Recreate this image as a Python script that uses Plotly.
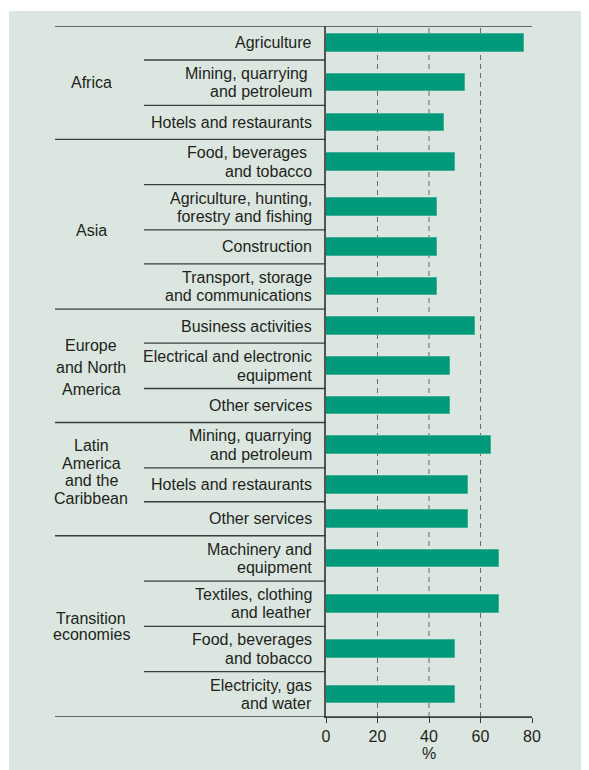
import plotly.graph_objects as go

# Regions, their industries and the share (%)
regions = [
    "Africa",
    "Asia",
    "Europe<br>and North<br>America",
    "Latin<br>America<br>and the<br>Caribbean",
    "Transition<br>economies",
]
industries = [
    ["Agriculture", "Mining, quarrying <br>and petroleum", "Hotels and restaurants"],
    ["Food, beverages <br>and tobacco", "Agriculture, hunting,<br>forestry and fishing",
     "Construction", "Transport, storage<br>and communications"],
    ["Business activities", "Electrical and electronic<br>equipment", "Other services"],
    ["Mining, quarrying<br>and petroleum", "Hotels and restaurants", "Other services"],
    ["Machinery and<br>equipment", "Textiles, clothing<br>and leather",
     "Food, beverages<br>and tobacco", "Electricity, gas<br>and water"],
]
shares = [
    [77, 54, 46],
    [50, 43, 43, 43],
    [58, 48, 48],
    [64, 55, 55],
    [67, 67, 50, 50],
]
x_ticks = [0, 20, 40, 60, 80]
grid_ticks = [20, 40, 60]

FONT = "Liberation Sans, Arial, Helvetica, sans-serif"
FS = 16
TEXT = "#231f20"
LINE = "#3c3c3c"
BAR = "#00997a"
PANEL = "#dae6df"

# region label leading and vertical nudge (px), as set in the original
region_leading = [19, 19, 22, 17.5, 16]
region_nudge = [0, -6, -1.5, 7, 0]

# the page body adds an 8px margin, so the figure is drawn 8px smaller
OFF = 8
W, H = 589 - OFF, 770 - OFF
L = 326 - OFF
T = 26 - OFF
R = W - (532 - OFF)
B = H - (717 - OFF)
plot_w = W - L - R
plot_h = H - T - B


def paper_x(px):
    # px measured on the final page
    return (px - OFF - L) / plot_w


def paper_y(py):
    return 1 - (py - OFF - T) / plot_h


# row height: 3 units for a one-line label, 4 for two lines
ys, widths_x, labels = [], [], []
row_edges = []          # separators inside a region
region_edges = [0.0]    # separators between regions
region_centers = []
pos = 0.0
for reg, inds, vals in zip(regions, industries, shares):
    start = pos
    for k, (ind, v) in enumerate(zip(inds, vals)):
        h = 3 + ind.count("<br>")
        if k > 0:
            row_edges.append(pos)
        ys.append(pos + h / 2)
        widths_x.append(v)
        labels.append(ind)
        pos += h
    region_edges.append(pos)
    region_centers.append((start + pos) / 2)
total = pos

fig = go.Figure()
fig.add_trace(go.Bar(
    x=widths_x, y=ys,
    orientation="h",
    width=1.55,
    marker=dict(color=BAR, line=dict(color="#40b096", width=1)),
    hoverinfo="x",
    showlegend=False,
))

shapes = [
    dict(type="rect", xref="paper", yref="paper", layer="below",
         x0=paper_x(9), x1=paper_x(600), y0=paper_y(11), y1=paper_y(780),
         fillcolor=PANEL, line=dict(width=0)),
]
for g in grid_ticks:
    shapes.append(dict(type="line", xref="x", yref="paper", layer="below",
                       x0=g, x1=g, y0=0, y1=1,
                       line=dict(color="#6b6b6b", width=1, dash="5px,4px")))
for e in row_edges:
    shapes.append(dict(type="line", xref="paper", yref="y",
                       x0=paper_x(144), x1=0, y0=e, y1=e,
                       line=dict(color=LINE, width=1.3)))
for i, e in enumerate(region_edges):
    x1 = 1 if i in (0, len(region_edges) - 1) else 0
    shapes.append(dict(type="line", xref="paper", yref="y",
                       x0=paper_x(55), x1=x1, y0=e, y1=e,
                       line=dict(color=LINE, width=1.3)))

annotations = []
LS = 18.5
for y, lab in zip(ys, labels):
    parts = lab.split("<br>")
    n = len(parts)
    for i, p in enumerate(parts):
        annotations.append(dict(
            x=paper_x(314), y=y, xref="paper", yref="y",
            xanchor="right", yanchor="middle", text=p, showarrow=False,
            yshift=-(i - (n - 1) / 2) * LS,
            font=dict(family=FONT, size=FS, color=TEXT)))
for y, reg, rs, nudge in zip(region_centers, regions, region_leading, region_nudge):
    parts = reg.split("<br>")
    n = len(parts)
    for i, p in enumerate(parts):
        annotations.append(dict(
            x=paper_x(91), y=y, xref="paper", yref="y",
            xanchor="center", yanchor="middle", text=p, showarrow=False,
            yshift=-(i - (n - 1) / 2) * rs + nudge,
            font=dict(family=FONT, size=FS, color=TEXT)))

fig.update_layout(
    width=W, height=H,
    margin=dict(l=L, r=R, t=T, b=B),
    paper_bgcolor="white",
    plot_bgcolor="rgba(0,0,0,0)",
    showlegend=False,
    bargap=0,
    shapes=shapes,
    annotations=annotations,
    font=dict(family=FONT, size=FS, color=TEXT),
    xaxis=dict(
        range=[0, 80], tickvals=x_ticks, showgrid=False, zeroline=False,
        showline=True, linecolor=LINE, linewidth=1.3,
        ticks="outside", ticklen=5, tickcolor=LINE, tickwidth=1.3,
        tickfont=dict(family=FONT, size=FS, color=TEXT),
        title=dict(text="%", standoff=0, font=dict(family=FONT, size=FS, color=TEXT)),
        fixedrange=True,
    ),
    yaxis=dict(
        range=[total, 0], showticklabels=False, showgrid=False, zeroline=False,
        showline=True, linecolor="#555555", linewidth=1.5, ticks="",
        fixedrange=True,
    ),
)

fig.write_html("out.html")
